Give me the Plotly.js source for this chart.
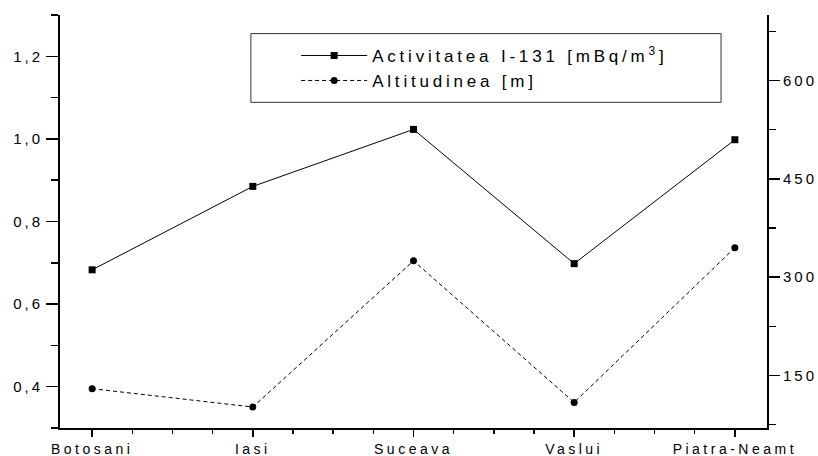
<!DOCTYPE html>
<html>
<head>
<meta charset="utf-8">
<script src="https://cdn.plot.ly/plotly-3.0.1.min.js"></script>
<style>
  html, body { margin: 0; padding: 0; background: #fff; }
  #chart { width: 818px; height: 456px; }
  .ytick text, .y2tick text { letter-spacing: 3px; }
  .xtick text { letter-spacing: 3.5px; }
  g.legend text, g.legend2 text, .legendtext, .legend2text { letter-spacing: 3.8px; }
</style>
</head>
<body>
<div id="chart"></div>
<script>
const categories = ["Botosani", "Iasi", "Suceava", "Vaslui", "Piatra-Neamt"];
const activitate = [0.683, 0.885, 1.023, 0.698, 0.998];
const altitudine = [130, 102, 325, 109, 345];
const leftTicks = [0.4, 0.6, 0.8, 1.0, 1.2];
const rightTicks = [150, 300, 450, 600];

const idx = categories.map((_, i) => i);
const FONT = "Liberation Sans, Arial, sans-serif";

const traces = [
  {
    x: idx, y: activitate, name: "Activitatea I-131 [mBq/m<sup>3</sup>]",
    type: "scatter", mode: "lines+markers",
    line: { color: "#000", width: 1 },
    marker: { symbol: "square", size: 7, color: "#000" },
    xaxis: "x", yaxis: "y", legend: "legend"
  },
  {
    x: idx, y: altitudine, name: "Altitudinea [m]",
    type: "scatter", mode: "lines+markers",
    line: { color: "#000", width: 1, dash: "4px,3px" },
    marker: { symbol: "circle", size: 7, color: "#000" },
    xaxis: "x", yaxis: "y2", legend: "legend2"
  }
];

function legendAt(x, y) {
  return {
    x: x, y: y, xanchor: "left", yanchor: "top",
    bgcolor: "rgba(0,0,0,0)", borderwidth: 0,
    font: { family: FONT, size: 17, color: "#000" },
    itemwidth: 66, tracegroupgap: 0
  };
}

const layout = {
  width: 818, height: 456,
  margin: { l: 60, r: 51, t: 15, b: 28, pad: 0 },
  paper_bgcolor: "#fff", plot_bgcolor: "#fff",
  separators: ",.",
  font: { family: FONT, size: 15, color: "#000" },
  showlegend: true,
  legend: legendAt(0.334, 0.9445),
  legend2: legendAt(0.334, 0.884),
  xaxis: {
    range: [-0.2, 4.2], tickmode: "array", tickvals: idx, ticktext: categories,
    showgrid: false, zeroline: false,
    showline: true, linewidth: 2, linecolor: "#000",
    ticks: "outside", ticklen: 7, tickwidth: 1.5, tickcolor: "#000",
    minor: { tickmode: "linear", tick0: 0, dtick: 0.25, ticks: "outside", ticklen: 4, tickwidth: 1.5, tickcolor: "#000", showgrid: false },
    tickfont: { family: FONT, size: 14, color: "#000" }
  },
  xaxis2: {
    overlaying: "x", side: "top", range: [-0.2, 4.2],
    tickmode: "linear", tick0: 0, dtick: 0.5,
    showgrid: false, zeroline: false, showticklabels: false,
    showline: true, linewidth: 2, linecolor: "#000",
    ticks: "inside", ticklen: 9, tickwidth: 1.5, tickcolor: "#000"
  },
  yaxis: {
    range: [0.3, 1.3], tickmode: "array", tickvals: leftTicks, tickformat: ".1f",
    showgrid: false, zeroline: false,
    showline: true, linewidth: 2, linecolor: "#000",
    ticks: "outside", ticklen: 12, tickwidth: 1.5, tickcolor: "#000",
    minor: { tickmode: "linear", tick0: 0, dtick: 0.1, ticks: "outside", ticklen: 7, tickwidth: 1.5, tickcolor: "#000", showgrid: false },
    tickfont: { family: FONT, size: 15, color: "#000" }
  },
  yaxis2: {
    overlaying: "y", side: "right", range: [70, 700],
    tickmode: "array", tickvals: rightTicks,
    showgrid: false, zeroline: false,
    showline: true, linewidth: 2, linecolor: "#000",
    ticks: "outside", ticklen: 11, tickwidth: 1.5, tickcolor: "#000",
    minor: { tickmode: "linear", tick0: 0, dtick: 75, ticks: "outside", ticklen: 7, tickwidth: 1.5, tickcolor: "#000", showgrid: false },
    tickfont: { family: FONT, size: 15, color: "#000" }
  },
  shapes: [
    { type: "rect", xref: "paper", yref: "paper", x0: 0.270, x1: 0.935, y0: 0.7885, y1: 0.955,
      line: { color: "#333", width: 1 }, fillcolor: "rgba(0,0,0,0)", layer: "below" }
  ]
};

Plotly.newPlot("chart", traces, layout, { staticPlot: true, displayModeBar: false });
</script>
</body>
</html>
